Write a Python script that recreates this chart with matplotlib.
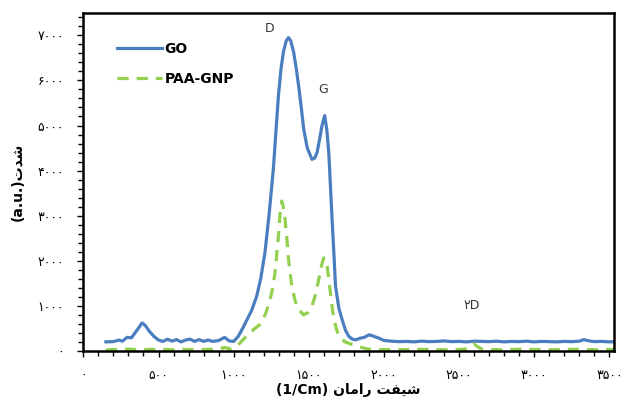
import numpy as np
import matplotlib.pyplot as plt
from matplotlib.ticker import MultipleLocator, FixedLocator, FixedFormatter

# GO spectrum
go_x = [150, 200, 235, 260, 290, 320, 350, 370, 390, 410, 440, 470, 500, 530, 560, 590,
        620, 650, 680, 710, 740, 770, 800, 830, 860, 900, 940, 970, 1000, 1030, 1060,
        1090, 1120, 1153, 1180, 1208, 1235, 1264, 1280, 1298, 1315, 1331, 1350, 1365,
        1380, 1399, 1415, 1432, 1450, 1466, 1490, 1521, 1540, 1555, 1575, 1588, 1606,
        1620, 1633, 1645, 1655, 1668, 1678, 1700, 1722, 1745, 1767, 1790, 1812, 1840,
        1870, 1900, 1920, 1950, 1968, 2000, 2050, 2100, 2150, 2200, 2250, 2300, 2350,
        2400, 2450, 2500, 2550, 2600, 2650, 2700, 2750, 2800, 2850, 2900, 2950, 3000,
        3050, 3100, 3150, 3200, 3250, 3300, 3330, 3360, 3400, 3450, 3500, 3540]
go_y = [200, 205, 240, 215, 300, 290, 430, 520, 620, 570, 430, 320, 240, 210, 260, 215,
        250, 200, 240, 260, 210, 250, 210, 240, 210, 230, 300, 220, 210, 320, 500,
        700, 900, 1210, 1600, 2175, 3000, 4030, 4800, 5665, 6250, 6630, 6880, 6950,
        6880, 6630, 6300, 5890, 5400, 4920, 4500, 4250, 4280, 4400, 4750, 5000, 5220,
        4900, 4400, 3600, 2920, 2100, 1430, 950, 690, 450, 320, 260, 245, 280,
        300, 356, 340, 300, 280, 230, 215, 205, 210, 200, 215, 205, 210,
        220, 205, 210, 200, 215, 210, 205, 215, 200, 210, 205, 215, 200,
        210, 205, 200, 210, 205, 215, 250, 225, 205, 210, 200, 205]

# PAA-GNP spectrum
paa_x = [150, 200, 250, 300, 350, 400, 450, 500, 550, 600, 650, 700, 750, 800, 850, 900,
         940, 980, 1020, 1052, 1100, 1150, 1186, 1215, 1242, 1260, 1275, 1298, 1310, 1320,
         1330, 1342, 1355, 1365, 1387, 1410, 1432, 1466, 1495, 1521, 1545, 1566, 1585,
         1600, 1612, 1622, 1633, 1644, 1655, 1667, 1685, 1700, 1740, 1790, 1833, 1880,
         1944, 2000, 2100, 2200, 2300, 2400, 2500, 2540, 2570, 2600, 2620, 2650, 2700,
         2800, 2900, 3000, 3100, 3200, 3300, 3400, 3500, 3540]
paa_y = [20, 30, 25, 40, 30, 25, 35, 20, 30, 25, 35, 30, 25, 30, 35, 45,
         75, 40, 100, 210, 380, 520, 615, 850, 1135, 1400, 1730, 2545, 3100, 3325,
         3200, 2920, 2450, 2030, 1430, 1100, 915, 800, 850, 990, 1250, 1580, 1900,
         2065, 2000, 1880, 1600, 1285, 980, 690, 480, 320, 200, 140, 95, 50,
         20, 30, 25, 35, 30, 25, 30, 40, 80, 150, 100, 40, 30,
         25, 35, 30, 25, 30, 35, 25, 30, 30]

x_ticks = [0, 500, 1000, 1500, 2000, 2500, 3000, 3500]
y_ticks = [0, 1000, 2000, 3000, 4000, 5000, 6000, 7000]

fa = str.maketrans('0123456789', '۰۱۲۳۴۵۶۷۸۹')
x_labels = [str(v).translate(fa) for v in x_ticks]
y_labels = [str(v).translate(fa) for v in y_ticks]

blue = '#4a7ebf'
green = '#92d050'

fig = plt.figure(figsize=(6.27, 4.01), dpi=100)
ax = fig.add_axes([0.133, 0.125, 0.846, 0.843])

ax.plot(go_x, go_y, color=blue, lw=2.3, label='GO', solid_joinstyle='round')
ax.plot(paa_x, paa_y, color=green, lw=2.3, dashes=(3.5, 2.5), label='PAA-GNP')

ax.set_xlim(0, 3530)
ax.set_ylim(0, 7500)
ax.xaxis.set_major_locator(FixedLocator(x_ticks))
ax.xaxis.set_major_formatter(FixedFormatter(x_labels))
ax.yaxis.set_major_locator(FixedLocator(y_ticks))
ax.yaxis.set_major_formatter(FixedFormatter(y_labels))
ax.xaxis.set_minor_locator(MultipleLocator(100))
ax.yaxis.set_minor_locator(MultipleLocator(200))
ax.tick_params(which='both', direction='out', width=1, color='black', labelsize=9)
ax.tick_params(which='major', length=4)
ax.tick_params(which='minor', length=3.5)
ax.tick_params(axis='x', pad=9)
ax.tick_params(axis='y', pad=10)
for s in ax.spines.values():
    s.set_linewidth(1.8)

# متن‌های فارسی به صورت شکل‌یافته و معکوس
xl = '(1/Cm) ' + '\uFEE5\uFE8E\uFEE3\uFE8D\uFEAD' + ' ' + '\uFE96\uFED4\uFEF4\uFEB7'
yl = '(a.u.)' + '\uFE95\uFEAA\uFEB7'
ax.set_xlabel(xl, fontsize=10, fontweight='bold', labelpad=1)
ax.set_ylabel(yl, fontsize=10, fontweight='bold', labelpad=9)

ax.text(1241, 7150, 'D', fontsize=9, color='#333333', ha='center', va='center')
ax.text(1594, 5790, 'G', fontsize=9, color='#333333', ha='center', va='center')
ax.text(2584, 1000, '\u06F2D', fontsize=9, color='#333333', ha='center', va='center')

ax.legend(loc='upper left', bbox_to_anchor=(0.04, 0.95), frameon=False,
          handlelength=3.2, handletextpad=0.2, labelspacing=1.1,
          prop={'weight': 'bold', 'size': 10})

fig.savefig('out.png', dpi=100)
